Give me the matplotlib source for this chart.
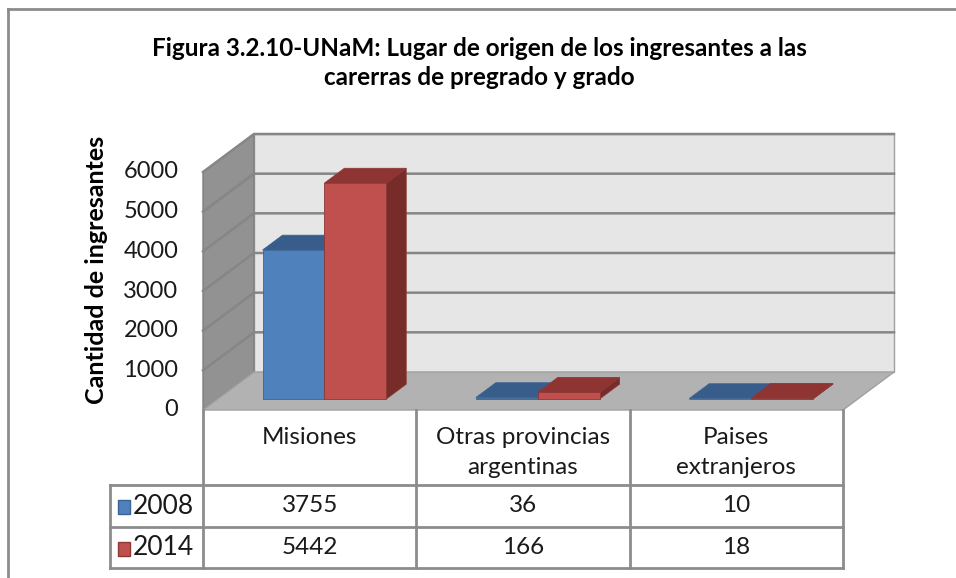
import numpy as np
import matplotlib
matplotlib.use("Agg")
import matplotlib.pyplot as plt
from matplotlib.transforms import Affine2D, blended_transform_factory

categories = ["Misiones", "Otras provincias\nargentinas", "Paises\nextranjeros"]
years = ["2008", "2014"]
values_2008 = [3755, 36, 10]
values_2014 = [5442, 166, 18]
y_ticks = [0, 1000, 2000, 3000, 4000, 5000, 6000]

title = "Figura 3.2.10-UNaM: Lugar de origen de los ingresantes a las\ncarerras de pregrado y grado"
y_label = "Cantidad de ingresantes"

W, H = 956, 578
FONT = "Lato"
TXT = "#1A1A1A"
GRID = "#868686"
LINE = "#8C8C8C"
# front, top, side, edge
BLUE = ("#4F81BD", "#385D8A", "#2E4F78", "#3A6496")
RED = ("#C0504D", "#8E3533", "#772C2A", "#8C3836")

fig = plt.figure(figsize=(W / 100, H / 100), dpi=100)

# front plane of the 3D box, in pixels
x0, x1, yb, yt = 203, 843, 410, 172
ax = fig.add_axes([x0 / W, (H - yb) / H, (x1 - x0) / W, (yb - yt) / H])
ax.set_xlim(0, len(categories))
ax.set_ylim(0, 6000)
ax.axis("off")

# depth offset (full depth) in pixels -> data units
DX_PX, DY_PX = 51, 38
dx = DX_PX * len(categories) / (x1 - x0)
dy = DY_PX * 6000 / (yb - yt)


def pt(x, v, d):
    return (x + d * dx, v + d * dy)


def face(pts, color, edge, lw=0.8, z=1):
    xs, ys = zip(*pts)
    ax.fill(xs, ys, facecolor=color, edgecolor=edge, linewidth=lw, clip_on=False, zorder=z)


ncat = len(categories)
vmax = y_ticks[-1]
# walls and floor
face([pt(0, 0, 1), pt(ncat, 0, 1), pt(ncat, vmax, 1), pt(0, vmax, 1)], "#E6E6E6", "#A0A0A0", 1)
face([pt(0, 0, 0), pt(0, 0, 1), pt(0, vmax, 1), pt(0, vmax, 0)], "#929292", "#7F7F7F", 1)
face([pt(0, 0, 0), pt(ncat, 0, 0), pt(ncat, 0, 1), pt(0, 0, 1)], "#B2B2B2", "#A0A0A0", 1)

for v in y_ticks[1:]:
    xs, ys = zip(pt(0, v, 0), pt(0, v, 1), pt(ncat, v, 1))
    ax.plot(xs, ys, color=GRID, lw=1.8, clip_on=False, zorder=2)

# bars
bar_w = 0.29
start = 0.21
d0, d1 = 0.29, 0.68
for s, (vals, cols) in enumerate([(values_2008, BLUE), (values_2014, RED)]):
    for i, v in enumerate(vals):
        xa = i + start + s * bar_w
        xb = xa + bar_w
        front, top, side, edge = cols
        face([pt(xb, 0, d0), pt(xb, 0, d1), pt(xb, v, d1), pt(xb, v, d0)], side, edge, 0.6, 3 + s)
        face([pt(xa, v, d0), pt(xb, v, d0), pt(xb, v, d1), pt(xa, v, d1)], top, edge, 0.6, 3 + s)
        face([pt(xa, 0, d0), pt(xb, 0, d0), pt(xb, v, d0), pt(xa, v, d0)], front, edge, 0.6, 3 + s)

for v in y_ticks:
    ax.text(-0.115, v, str(v), ha="right", va="center", fontsize=17,
            family=FONT, color=TXT, clip_on=False)

# figure-pixel transform (y measured from top)
px = Affine2D().scale(1, -1).translate(0, H)
cat_px = blended_transform_factory(ax.transData, px)

fig.text(479 / W, 1 - 63 / H, title, ha="center", va="center", fontsize=17.5,
         fontweight="bold", family=FONT, linespacing=1.35)
fig.text(97 / W, 1 - 270 / H, y_label, ha="center", va="center", rotation=90,
         fontsize=18, fontweight="bold", family=FONT)

# data table
row_y = [410, 485, 527, 568]
lkw = dict(color=LINE, lw=2, transform=px, clip_on=False)
col_x = [x0 + (x1 - x0) * k / ncat for k in range(ncat + 1)]
for k, cx in enumerate(col_x):
    fig.add_artist(plt.Line2D([cx, cx], [row_y[0], row_y[-1]], **lkw))
fig.add_artist(plt.Line2D([110, 110], [row_y[1], row_y[-1]], **lkw))
for ry in row_y[1:]:
    fig.add_artist(plt.Line2D([110, x1], [ry, ry], **lkw))

for i, c in enumerate(categories):
    lines = c.split("\n")
    for j, ln in enumerate(lines):
        ax.text(i + 0.5, 438 + 30 * j, ln, transform=cat_px, ha="center", va="center",
                fontsize=17.5, family=FONT, color=TXT, clip_on=False)

for r, (yr, vals, cols) in enumerate([(years[0], values_2008, BLUE), (years[1], values_2014, RED)]):
    cy = (row_y[r + 1] + row_y[r + 2]) / 2
    fig.add_artist(plt.Rectangle((118, cy - 6), 12, 14, facecolor=cols[0], edgecolor=cols[3],
                                 lw=1, transform=px))
    fig.text(133 / W, 1 - cy / H, yr, ha="left", va="center", fontsize=19,
             family=FONT, color=TXT)
    for i, v in enumerate(vals):
        ax.text(i + 0.5, cy, str(v), transform=cat_px, ha="center", va="center",
                fontsize=17.5, family=FONT, color=TXT, clip_on=False)

# chart area border (top and left edges visible)
fig.add_artist(plt.Line2D([8, W], [9, 9], **lkw))
fig.add_artist(plt.Line2D([8, 8], [9, H], **lkw))

fig.savefig("out.png", dpi=100)
